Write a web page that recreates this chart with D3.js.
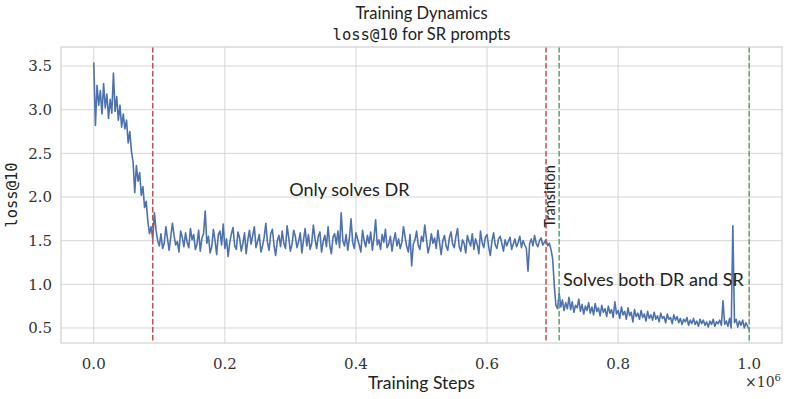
<!DOCTYPE html>
<html>
<head>
<meta charset="utf-8">
<script src="https://cdn.jsdelivr.net/npm/d3@7"></script>
<style>
  body { margin: 0; background: #fff; }
  svg { display: block; }
</style>
</head>
<body>
<svg id="chart" width="789" height="399"></svg>
<script>
// Loss values logged every stepSize training steps, starting at step 0
const stepSize = 2500;
const lossWarmup = [
    3.54, 2.82, 3.28, 3.05, 3.22, 2.95, 3.30, 3.02, 3.18, 2.90,
    3.12, 2.96, 3.42, 2.98, 3.15, 2.88, 3.05, 2.80, 2.95, 2.78,
    2.88, 2.62, 2.75, 2.52, 2.40, 2.05, 2.36, 2.18, 2.28, 2.02,
    2.12, 1.88, 1.95, 1.72, 1.58, 1.66, 1.52, 1.82
];
const lossPlateau = [
    1.62, 1.50, 1.44, 1.58, 1.41, 1.47, 1.66, 1.52, 1.39, 1.55,
    1.70, 1.56, 1.45, 1.49, 1.37, 1.61, 1.54, 1.43, 1.59, 1.48,
    1.42, 1.64, 1.51, 1.57, 1.40, 1.46, 1.62, 1.38, 1.53, 1.58,
    1.84, 1.47, 1.55, 1.36, 1.43, 1.63, 1.50, 1.34, 1.57, 1.61,
    1.45, 1.69, 1.41, 1.52, 1.32, 1.48, 1.58, 1.65, 1.44, 1.40,
    1.60, 1.53, 1.38, 1.47, 1.59, 1.35, 1.51, 1.62, 1.46, 1.56,
    1.66, 1.42, 1.49, 1.57, 1.37, 1.44, 1.54, 1.70, 1.48, 1.39,
    1.58, 1.63, 1.45, 1.33, 1.50, 1.56, 1.43, 1.61, 1.47, 1.41,
    1.67, 1.53, 1.38, 1.46, 1.62, 1.55, 1.42, 1.49, 1.59, 1.36,
    1.51, 1.64, 1.44, 1.57, 1.40, 1.47, 1.68, 1.52, 1.41, 1.55,
    1.60, 1.37, 1.49, 1.56, 1.43, 1.66, 1.45, 1.35, 1.54, 1.58,
    1.46, 1.61, 1.42, 1.82, 1.50, 1.44, 1.57, 1.39, 1.53, 1.75,
    1.48, 1.41, 1.59, 1.52, 1.45, 1.37, 1.62, 1.50, 1.43, 1.56,
    1.47, 1.60, 1.39, 1.53, 1.74, 1.45, 1.51, 1.40, 1.57, 1.48,
    1.63, 1.42, 1.46, 1.55, 1.38, 1.50, 1.59, 1.44, 1.52, 1.41,
    1.48, 1.66, 1.54, 1.43, 1.37, 1.57, 1.21, 1.46, 1.51, 1.61,
    1.45, 1.40, 1.55, 1.49, 1.68, 1.52, 1.36, 1.44, 1.58, 1.47,
    1.53, 1.41, 1.62, 1.48, 1.34, 1.50, 1.56, 1.44, 1.39, 1.53,
    1.60, 1.46, 1.42, 1.55, 1.64, 1.43, 1.38, 1.51, 1.47, 1.36,
    1.56, 1.49, 1.44, 1.58, 1.40, 1.52, 1.46, 1.35, 1.61, 1.48,
    1.42, 1.54, 1.57, 1.43, 1.33, 1.50, 1.59, 1.45, 1.41, 1.52,
    1.55, 1.47, 1.38, 1.51, 1.44, 1.49, 1.54, 1.40, 1.46, 1.52,
    1.43, 1.48, 1.55, 1.42, 1.50, 1.45, 1.41, 1.15, 1.47, 1.52,
    1.44, 1.56, 1.47, 1.43, 1.50, 1.53, 1.45, 1.48, 1.51
];
const lossSolved = [
    1.44, 1.47, 1.40, 1.30, 1.00, 0.76, 0.72, 0.90, 0.74, 0.82,
    0.70, 0.79, 0.72, 0.85, 0.71, 0.80, 0.68, 0.76, 0.73, 0.83,
    0.69, 0.77, 0.66, 0.75, 0.70, 0.79, 0.67, 0.74, 0.65, 0.78,
    0.69, 0.73, 0.64, 0.76, 0.68, 0.72, 0.63, 0.75, 0.67, 0.71,
    0.62, 0.80, 0.66, 0.70, 0.61, 0.74, 0.65, 0.69, 0.60, 0.73,
    0.64, 0.68, 0.57, 0.71, 0.63, 0.67, 0.60, 0.70, 0.62, 0.66,
    0.58, 0.69, 0.61, 0.65, 0.59, 0.68, 0.60, 0.64, 0.57, 0.67,
    0.61, 0.63, 0.56, 0.66, 0.60, 0.62, 0.55, 0.65, 0.59, 0.63,
    0.56, 0.61, 0.54, 0.60, 0.57, 0.62, 0.53, 0.59, 0.55, 0.61,
    0.54, 0.58, 0.52, 0.60, 0.55, 0.59, 0.53, 0.57, 0.51, 0.58,
    0.54, 0.60, 0.52, 0.57, 0.55, 0.59, 0.53, 0.81, 0.54, 0.58,
    0.52, 0.61, 0.50, 1.67, 0.56, 0.60, 0.51, 0.58, 0.53, 0.59,
    0.50, 0.56, 0.52, 0.48
];
const phaseStarts = [90000, 690000];   // red dashed
const phaseEnds = [710000, 1000000];   // green dashed
const xTicks = [0, 0.2e6, 0.4e6, 0.6e6, 0.8e6, 1.0e6];
const yTicks = [0.5, 1.0, 1.5, 2.0, 2.5, 3.0, 3.5];

const loss = lossWarmup.concat(lossPlateau, lossSolved);
const data = loss.map((v, i) => ({ step: i * stepSize, loss: v }));

const margin = { left: 61, top: 47, right: 7, bottom: 56 };
const width = 789 - margin.left - margin.right;
const height = 399 - margin.top - margin.bottom;

const sans = 'Lato, "Open Sans", sans-serif';
const serif = '"DejaVu Serif", "Liberation Serif", serif';
const mono = '"DejaVu Sans Mono", "Liberation Mono", monospace';

const svg = d3.select('#chart');
const g = svg.append('g').attr('transform', `translate(${margin.left},${margin.top})`);

const x = d3.scaleLinear().domain([-50000, 1050000]).range([0, width]);
const y = d3.scaleLinear().domain([0.328, 3.718]).range([height, 0]);

// Grid
g.append('g')
    .selectAll('line')
    .data(xTicks)
    .enter().append('line')
    .attr('x1', d => x(d)).attr('x2', d => x(d))
    .attr('y1', 0).attr('y2', height)
    .attr('stroke', '#d6d6d6').attr('stroke-width', 1);

g.append('g')
    .selectAll('line')
    .data(yTicks)
    .enter().append('line')
    .attr('x1', 0).attr('x2', width)
    .attr('y1', d => y(d)).attr('y2', d => y(d))
    .attr('stroke', '#d6d6d6').attr('stroke-width', 1);

// Loss curve
const line = d3.line().x(d => x(d.step)).y(d => y(d.loss));
g.append('path')
    .datum(data)
    .attr('fill', 'none')
    .attr('stroke', '#4c72b0')
    .attr('stroke-width', 1.6)
    .attr('stroke-linejoin', 'round')
    .attr('d', line);

// Phase markers
const vlines = phaseStarts.map(s => ({ step: s, color: '#c44e52' }))
    .concat(phaseEnds.map(s => ({ step: s, color: '#55a868' })));
g.append('g')
    .selectAll('line')
    .data(vlines)
    .enter().append('line')
    .attr('x1', d => x(d.step)).attr('x2', d => x(d.step))
    .attr('y1', 0).attr('y2', height)
    .attr('stroke', d => d.color)
    .attr('stroke-width', 1.5)
    .attr('stroke-dasharray', '5.5,2.5');

// Frame
g.append('rect')
    .attr('width', width).attr('height', height)
    .attr('fill', 'none').attr('stroke', '#d0d0d0').attr('stroke-width', 1.2);

// Tick labels
g.append('g')
    .selectAll('text')
    .data(xTicks)
    .enter().append('text')
    .attr('x', d => x(d)).attr('y', height + 26)
    .attr('text-anchor', 'middle')
    .style('font-family', serif).style('font-size', '15px').style('fill', '#333')
    .text(d => (d / 1e6).toFixed(1));

g.append('g')
    .selectAll('text')
    .data(yTicks)
    .enter().append('text')
    .attr('x', -9).attr('y', d => y(d))
    .attr('dy', '0.35em')
    .attr('text-anchor', 'end')
    .style('font-family', serif).style('font-size', '15px').style('fill', '#333')
    .text(d => d.toFixed(1));

// Offset label
const offset = g.append('text')
    .attr('x', 684).attr('y', height + 44)
    .style('font-family', serif).style('font-size', '14px').style('fill', '#333');
offset.append('tspan').text('\u00d710');
offset.append('tspan').attr('dy', -6).style('font-size', '10px').text('6');

// Axis labels
g.append('text')
    .attr('x', width / 2).attr('y', height + 46)
    .attr('text-anchor', 'middle')
    .style('font-family', sans).style('font-size', '17.5px').style('fill', '#222')
    .text('Training Steps');

g.append('text')
    .attr('transform', `translate(${-44},${height / 2}) rotate(-90)`)
    .attr('text-anchor', 'middle')
    .style('font-family', mono).style('font-size', '15.5px').style('fill', '#222')
    .text('loss@10');

// Title
svg.append('text')
    .attr('x', margin.left + width / 2).attr('y', 19)
    .attr('text-anchor', 'middle')
    .style('font-family', sans).style('font-size', '16.5px').style('fill', '#222')
    .text('Training Dynamics');

const sub = svg.append('text')
    .attr('x', margin.left + width / 2).attr('y', 40)
    .attr('text-anchor', 'middle')
    .style('font-family', sans).style('font-size', '16.5px').style('fill', '#222');
sub.append('tspan').style('font-family', mono).style('font-size', '15.5px').text('loss@10');
sub.append('tspan').text(' for SR prompts');

// Annotations
g.append('text')
    .attr('x', x(0.39e6)).attr('y', y(2.0) - 1)
    .attr('text-anchor', 'middle')
    .style('font-family', sans).style('font-size', '18px').style('fill', '#222')
    .text('Only solves DR');

g.append('text')
    .attr('x', x(0.716e6)).attr('y', y(1.0) + 2)
    .style('font-family', sans).style('font-size', '18px').style('fill', '#222')
    .text('Solves both DR and SR');

g.append('text')
    .attr('transform', `translate(${x(0.704e6)},${y(1.65)}) rotate(-90)`)
    .style('font-family', sans).style('font-size', '14.5px').style('fill', '#222')
    .text('Transition');
</script>
</body>
</html>
